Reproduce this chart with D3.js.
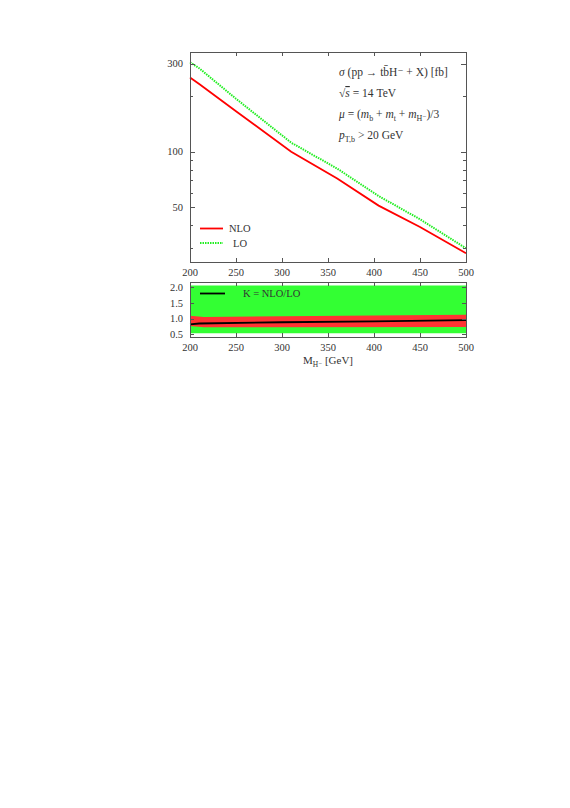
<!DOCTYPE html>
<html>
<head>
<meta charset="utf-8">
<script src="https://cdn.jsdelivr.net/npm/d3@7"></script>
<style>
  body { margin: 0; background: #fff; }
  text { font-family: "Liberation Serif", "DejaVu Serif", serif; fill: #333; }
</style>
</head>
<body>
<div id="chart"></div>
<script>
(function (d3) {
    'use strict';

    // Cross sections [fb].
    var masses = [200, 210, 250, 310, 360, 405, 450, 500];
    var nlo = [253, 233, 166, 100, 71.5, 51, 39, 28.1];
    var lo = [306, 284, 194, 112, 81, 57.5, 43, 29.9];

    // K factor and its bands.
    var kMasses = [200, 210, 300, 400, 500];
    var kValues = [0.82, 0.85, 0.89, 0.915, 0.96];
    var bandMasses = [200, 215, 500];
    var redLow = [0.77, 0.73, 0.74];
    var redHigh = [1.1, 1.06, 1.13];
    var greenLow = [0.54, 0.54, 0.54];
    var greenHigh = [2.06, 2.06, 2.06];

    var xTicks = [200, 250, 300, 350, 400, 450, 500];
    var yTicksLabelled = [50, 100, 300];
    var yTicksMinor = [30, 40, 60, 70, 80, 90, 200];
    var kTicks = [0.5, 1.0, 1.5, 2.0];

    var left = 190, right = 466;
    var top1 = 52, bottom1 = 262;
    var top2 = 282, bottom2 = 337;

    var svg = d3.select('#chart').append('svg')
        .attr('width', 570)
        .attr('height', 808);

    var x = d3.scaleLinear().domain([200, 500]).range([left, right]);
    var y = d3.scaleLog().domain([25.2, 348]).range([bottom1, top1]);
    var yk = d3.scaleLinear().domain([0.42, 2.17]).range([bottom2, top2]);

    // ---- upper panel ----
    var line = d3.line()
        .x(function (d) { return x(d[0]); })
        .y(function (d) { return y(d[1]); });

    svg.append('path')
        .datum(d3.zip(masses, lo))
        .attr('d', line)
        .attr('fill', 'none')
        .attr('stroke', '#22ee22')
        .attr('stroke-width', 2)
        .attr('stroke-dasharray', '1.5,1');

    svg.append('path')
        .datum(d3.zip(masses, nlo))
        .attr('d', line)
        .attr('fill', 'none')
        .attr('stroke', '#ff0000')
        .attr('stroke-width', 1.8);

    drawFrame(top1, bottom1);

    // y ticks (log)
    var yt = svg.append('g').attr('stroke', '#555').attr('stroke-width', 1);
    yTicksLabelled.concat(yTicksMinor).forEach(function (v) {
        var len = yTicksLabelled.indexOf(v) >= 0 ? 5 : 3;
        var py = Math.round(y(v)) + 0.5;
        yt.append('line').attr('x1', left).attr('x2', left + len).attr('y1', py).attr('y2', py);
        yt.append('line').attr('x1', right).attr('x2', right - len).attr('y1', py).attr('y2', py);
    });
    svg.selectAll('.ylab').data(yTicksLabelled).enter().append('text')
        .attr('x', left - 7)
        .attr('y', function (d) { return y(d) + 3.5; })
        .attr('text-anchor', 'end')
        .attr('font-size', 10.5)
        .text(function (d) { return d; });

    drawXTicks(top1, bottom1);

    // annotation
    var sp = '\u00a0';
    var ann = svg.append('g').attr('font-size', 11.5);
    var t1 = ann.append('text').attr('x', 339).attr('y', 76);
    t1.append('tspan').attr('font-style', 'italic').text('σ');
    t1.append('tspan').text(sp + '(pp' + sp + '→' + sp + 'tb\u0304H⁻' + sp + '+' + sp + 'X)' + sp + '[fb]');

    var t2 = ann.append('text').attr('x', 339).attr('y', 97);
    t2.append('tspan').text('√');
    t2.append('tspan').attr('font-style', 'italic').attr('text-decoration', 'overline').text('s');
    t2.append('tspan').text(sp + '=' + sp + '14' + sp + 'TeV');

    var t3 = ann.append('text').attr('x', 339).attr('y', 118);
    t3.append('tspan').attr('font-style', 'italic').text('μ');
    t3.append('tspan').text(sp + '=' + sp + '(');
    t3.append('tspan').attr('font-style', 'italic').text('m');
    t3.append('tspan').attr('font-size', 8).attr('dy', 2.5).text('b');
    t3.append('tspan').attr('dy', -2.5).text(sp + '+' + sp);
    t3.append('tspan').attr('font-style', 'italic').text('m');
    t3.append('tspan').attr('font-size', 8).attr('dy', 2.5).text('t');
    t3.append('tspan').attr('dy', -2.5).text(sp + '+' + sp);
    t3.append('tspan').attr('font-style', 'italic').text('m');
    t3.append('tspan').attr('font-size', 8).attr('dy', 2.5).text('H⁻');
    t3.append('tspan').attr('dy', -2.5).text(')/3');

    var t4 = ann.append('text').attr('x', 339).attr('y', 139);
    t4.append('tspan').attr('font-style', 'italic').text('p');
    t4.append('tspan').attr('font-size', 8).attr('dy', 2.5).text('T,b');
    t4.append('tspan').attr('dy', -2.5).text(sp + '>' + sp + '20 GeV');

    // legend
    svg.append('line').attr('x1', 200).attr('x2', 223).attr('y1', 228.5).attr('y2', 228.5)
        .attr('stroke', '#ff0000').attr('stroke-width', 1.8);
    svg.append('text').attr('x', 229).attr('y', 232).attr('font-size', 10.5).text('NLO');
    svg.append('line').attr('x1', 200).attr('x2', 223).attr('y1', 243).attr('y2', 243)
        .attr('stroke', '#22ee22').attr('stroke-width', 2).attr('stroke-dasharray', '1.5,1');
    svg.append('text').attr('x', 233).attr('y', 246.5).attr('font-size', 10.5).text('LO');

    // ---- lower panel ----
    var area = function (lowArr, highArr) {
        return d3.area()
            .x(function (d) { return x(d[0]); })
            .y0(function (d) { return yk(d[1]); })
            .y1(function (d) { return yk(d[2]); })(d3.zip(bandMasses, lowArr, highArr));
    };
    svg.append('path').attr('d', area(greenLow, greenHigh)).attr('fill', '#33ff33');
    svg.append('path').attr('d', area(redLow, redHigh)).attr('fill', '#ff3333');

    svg.append('path')
        .datum(d3.zip(kMasses, kValues))
        .attr('d', d3.line()
            .x(function (d) { return x(d[0]); })
            .y(function (d) { return yk(d[1]); }))
        .attr('fill', 'none')
        .attr('stroke', '#000')
        .attr('stroke-width', 1.8);

    drawFrame(top2, bottom2);

    var kt = svg.append('g').attr('stroke', '#555').attr('stroke-width', 1);
    kTicks.forEach(function (v) {
        var py = Math.round(yk(v)) + 0.5;
        kt.append('line').attr('x1', left).attr('x2', left + 4).attr('y1', py).attr('y2', py);
        kt.append('line').attr('x1', right).attr('x2', right - 4).attr('y1', py).attr('y2', py);
    });
    svg.selectAll('.klab').data(kTicks).enter().append('text')
        .attr('x', left - 7)
        .attr('y', function (d) { return yk(d) + 3.5; })
        .attr('text-anchor', 'end')
        .attr('font-size', 10.5)
        .text(function (d) { return d.toFixed(1); });

    drawXTicks(top2, bottom2);

    svg.append('line').attr('x1', 200).attr('x2', 225).attr('y1', 293.5).attr('y2', 293.5)
        .attr('stroke', '#000').attr('stroke-width', 1.8);
    svg.append('text').attr('x', 243).attr('y', 297).attr('font-size', 10.5).text('K = NLO/LO');

    // x axis title
    var xt = svg.append('text').attr('x', 328).attr('y', 364)
        .attr('text-anchor', 'middle').attr('font-size', 11);
    xt.append('tspan').text('M');
    xt.append('tspan').attr('font-size', 7.5).attr('dy', 2.5).text('H⁻');
    xt.append('tspan').attr('dy', -2.5).text(' [GeV]');

    function drawFrame(t, b) {
        svg.append('rect')
            .attr('x', left + 0.5).attr('y', t + 0.5)
            .attr('width', right - left).attr('height', b - t)
            .attr('fill', 'none').attr('stroke', '#555').attr('stroke-width', 1);
    }

    function drawXTicks(t, b) {
        var g = svg.append('g').attr('stroke', '#555').attr('stroke-width', 1);
        xTicks.forEach(function (v) {
            var px = Math.round(x(v)) + 0.5;
            g.append('line').attr('x1', px).attr('x2', px).attr('y1', b).attr('y2', b - 4);
            g.append('line').attr('x1', px).attr('x2', px).attr('y1', t).attr('y2', t + 4);
        });
        svg.append('g').selectAll('text').data(xTicks).enter().append('text')
            .attr('x', function (d) { return x(d); })
            .attr('y', b + 14)
            .attr('text-anchor', 'middle')
            .attr('font-size', 10.5)
            .text(function (d) { return d; });
    }
})(d3);
</script>
</body>
</html>
